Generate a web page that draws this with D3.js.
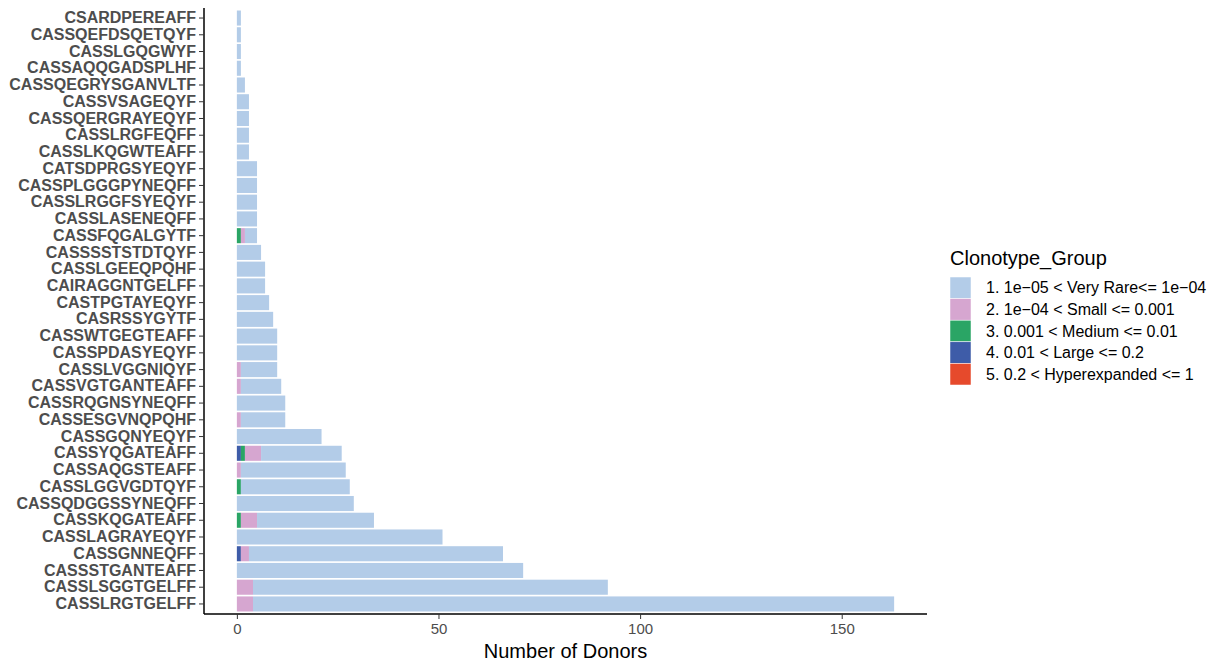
<!DOCTYPE html>
<html>
<head>
<meta charset="utf-8">
<script src="https://cdn.jsdelivr.net/npm/d3@7"></script>
<style>
  body { margin: 0; background: #fff; }
  svg { font-family: "Liberation Sans", Arial, Helvetica, sans-serif; }
</style>
</head>
<body>
<div id="svgdiv"></div>
<script>
// chart data, top row first
var clonotypes = ["CSARDPEREAFF", "CASSQEFDSQETQYF", "CASSLGQGWYF", "CASSAQQGADSPLHF",
  "CASSQEGRYSGANVLTF", "CASSVSAGEQYF", "CASSQERGRAYEQYF", "CASSLRGFEQFF",
  "CASSLKQGWTEAFF", "CATSDPRGSYEQYF", "CASSPLGGGPYNEQFF", "CASSLRGGFSYEQYF",
  "CASSLASENEQFF", "CASSFQGALGYTF", "CASSSSTSTDTQYF", "CASSLGEEQPQHF",
  "CAIRAGGNTGELFF", "CASTPGTAYEQYF", "CASRSSYGYTF", "CASSWTGEGTEAFF",
  "CASSPDASYEQYF", "CASSLVGGNIQYF", "CASSVGTGANTEAFF", "CASSRQGNSYNEQFF",
  "CASSESGVNQPQHF", "CASSGQNYEQYF", "CASSYQGATEAFF", "CASSAQGSTEAFF",
  "CASSLGGVGDTQYF", "CASSQDGGSSYNEQFF", "CASSKQGATEAFF", "CASSLAGRAYEQYF",
  "CASSGNNEQFF", "CASSSTGANTEAFF", "CASSLSGGTGELFF", "CASSLRGTGELFF"];

var veryRare = [1, 1, 1, 1, 2, 3, 3, 3, 3, 5, 5, 5, 5, 3, 6, 7, 7, 8, 9, 10,
  10, 9, 10, 12, 11, 21, 20, 26, 27, 29, 29, 51, 63, 71, 88, 159];
var small = [0, 0, 0, 0, 0, 0, 0, 0, 0, 0, 0, 0, 0, 1, 0, 0, 0, 0, 0, 0,
  0, 1, 1, 0, 1, 0, 4, 1, 0, 0, 4, 0, 2, 0, 4, 4];
var medium = [0, 0, 0, 0, 0, 0, 0, 0, 0, 0, 0, 0, 0, 1, 0, 0, 0, 0, 0, 0,
  0, 0, 0, 0, 0, 0, 1, 0, 1, 0, 1, 0, 0, 0, 0, 0];
var large = [0, 0, 0, 0, 0, 0, 0, 0, 0, 0, 0, 0, 0, 0, 0, 0, 0, 0, 0, 0,
  0, 0, 0, 0, 0, 0, 1, 0, 0, 0, 0, 0, 1, 0, 0, 0];
var hyper = [0, 0, 0, 0, 0, 0, 0, 0, 0, 0, 0, 0, 0, 0, 0, 0, 0, 0, 0, 0,
  0, 0, 0, 0, 0, 0, 0, 0, 0, 0, 0, 0, 0, 0, 0, 0];

var groupLabels = ["1. 1e\u221205 < Very Rare<= 1e\u221204", "2. 1e\u221204 < Small <= 0.001",
  "3. 0.001 < Medium <= 0.01", "4. 0.01 < Large <= 0.2", "5. 0.2 < Hyperexpanded <= 1"];
var groupColors = ["#b3cce8", "#d6a6d0", "#2aa565", "#3e5ca8", "#e64a2c"];
var xTicks = [0, 50, 100, 150];

var width = 1216, height = 661;
// plot panel edges (note: "top" is taken by window.top)
var padLeft = 204, padRight = 927, padTop = 8, padBottom = 614;

var svg = d3.select("#svgdiv").append("svg")
  .attr("width", width)
  .attr("height", height);

// build rows for the stack
var rows = clonotypes.map(function(c, i) {
  return {name: c, g1: veryRare[i], g2: small[i], g3: medium[i], g4: large[i], g5: hyper[i]};
});
var totals = rows.map(function(r) { return r.g1 + r.g2 + r.g3 + r.g4 + r.g5; });
var maxTotal = d3.max(totals);

// stacking from zero: hyperexpanded, large, medium, small, very rare
var keys = ["g5", "g4", "g3", "g2", "g1"];
var series = d3.stack().keys(keys)(rows);
var colorOf = {g1: groupColors[0], g2: groupColors[1], g3: groupColors[2], g4: groupColors[3], g5: groupColors[4]};

var x = d3.scaleLinear()
  .domain([-maxTotal * 0.05, maxTotal * 1.05])
  .range([padLeft, padRight]);

var y = d3.scaleBand()
  .domain(clonotypes)
  .range([padTop, padBottom])
  .paddingInner(0.1)
  .paddingOuter(0.15);

svg.selectAll("g.layer")
  .data(series)
  .enter().append("g")
  .attr("class", "layer")
  .attr("fill", function(d) { return colorOf[d.key]; })
  .selectAll("rect")
  .data(function(d) { return d; })
  .enter().append("rect")
  .attr("x", function(d) { return x(d[0]); })
  .attr("y", function(d) { return y(d.data.name); })
  .attr("width", function(d) { return x(d[1]) - x(d[0]); })
  .attr("height", y.bandwidth());

// y axis
var yAxis = svg.append("g")
  .attr("transform", "translate(" + padLeft + ",0)")
  .call(d3.axisLeft(y).tickSize(5).tickPadding(3));
yAxis.select(".domain").attr("d", "M0," + padTop + "V" + padBottom).attr("stroke", "#000").attr("stroke-width", 1.5);
yAxis.selectAll(".tick line").attr("stroke", "#333");
yAxis.selectAll(".tick text")
  .attr("fill", "#4d4d4d")
  .style("font-size", "16px")
  .style("font-weight", "bold");

// x axis
var xAxis = svg.append("g")
  .attr("transform", "translate(0," + padBottom + ")")
  .call(d3.axisBottom(x).tickValues(xTicks).tickSize(5).tickPadding(4));
xAxis.select(".domain").attr("d", "M" + padLeft + ",0H" + padRight).attr("stroke", "#000").attr("stroke-width", 1.5);
xAxis.selectAll(".tick line").attr("stroke", "#333");
xAxis.selectAll(".tick text")
  .attr("fill", "#4d4d4d")
  .style("font-size", "15px");

svg.append("text")
  .text("Number of Donors")
  .attr("x", (padLeft + padRight) / 2)
  .attr("y", 658)
  .attr("text-anchor", "middle")
  .style("font-size", "20px")
  .attr("fill", "#000");

// legend
var legend = svg.append("g").attr("transform", "translate(950,0)");
legend.append("text")
  .text("Clonotype_Group")
  .attr("x", 0)
  .attr("y", 265)
  .style("font-size", "20px");

var keyStep = 21.6;
groupLabels.forEach(function(lab, i) {
  legend.append("rect")
    .attr("x", 0)
    .attr("y", 277 + i * keyStep)
    .attr("width", 21)
    .attr("height", keyStep)
    .attr("fill", groupColors[i])
    .attr("stroke", "#fff")
    .attr("stroke-width", 0.5);
  legend.append("text")
    .text(lab)
    .attr("x", 36)
    .attr("y", 277 + i * keyStep + keyStep / 2)
    .attr("dy", "0.35em")
    .style("font-size", "16px");
});
</script>
</body>
</html>
